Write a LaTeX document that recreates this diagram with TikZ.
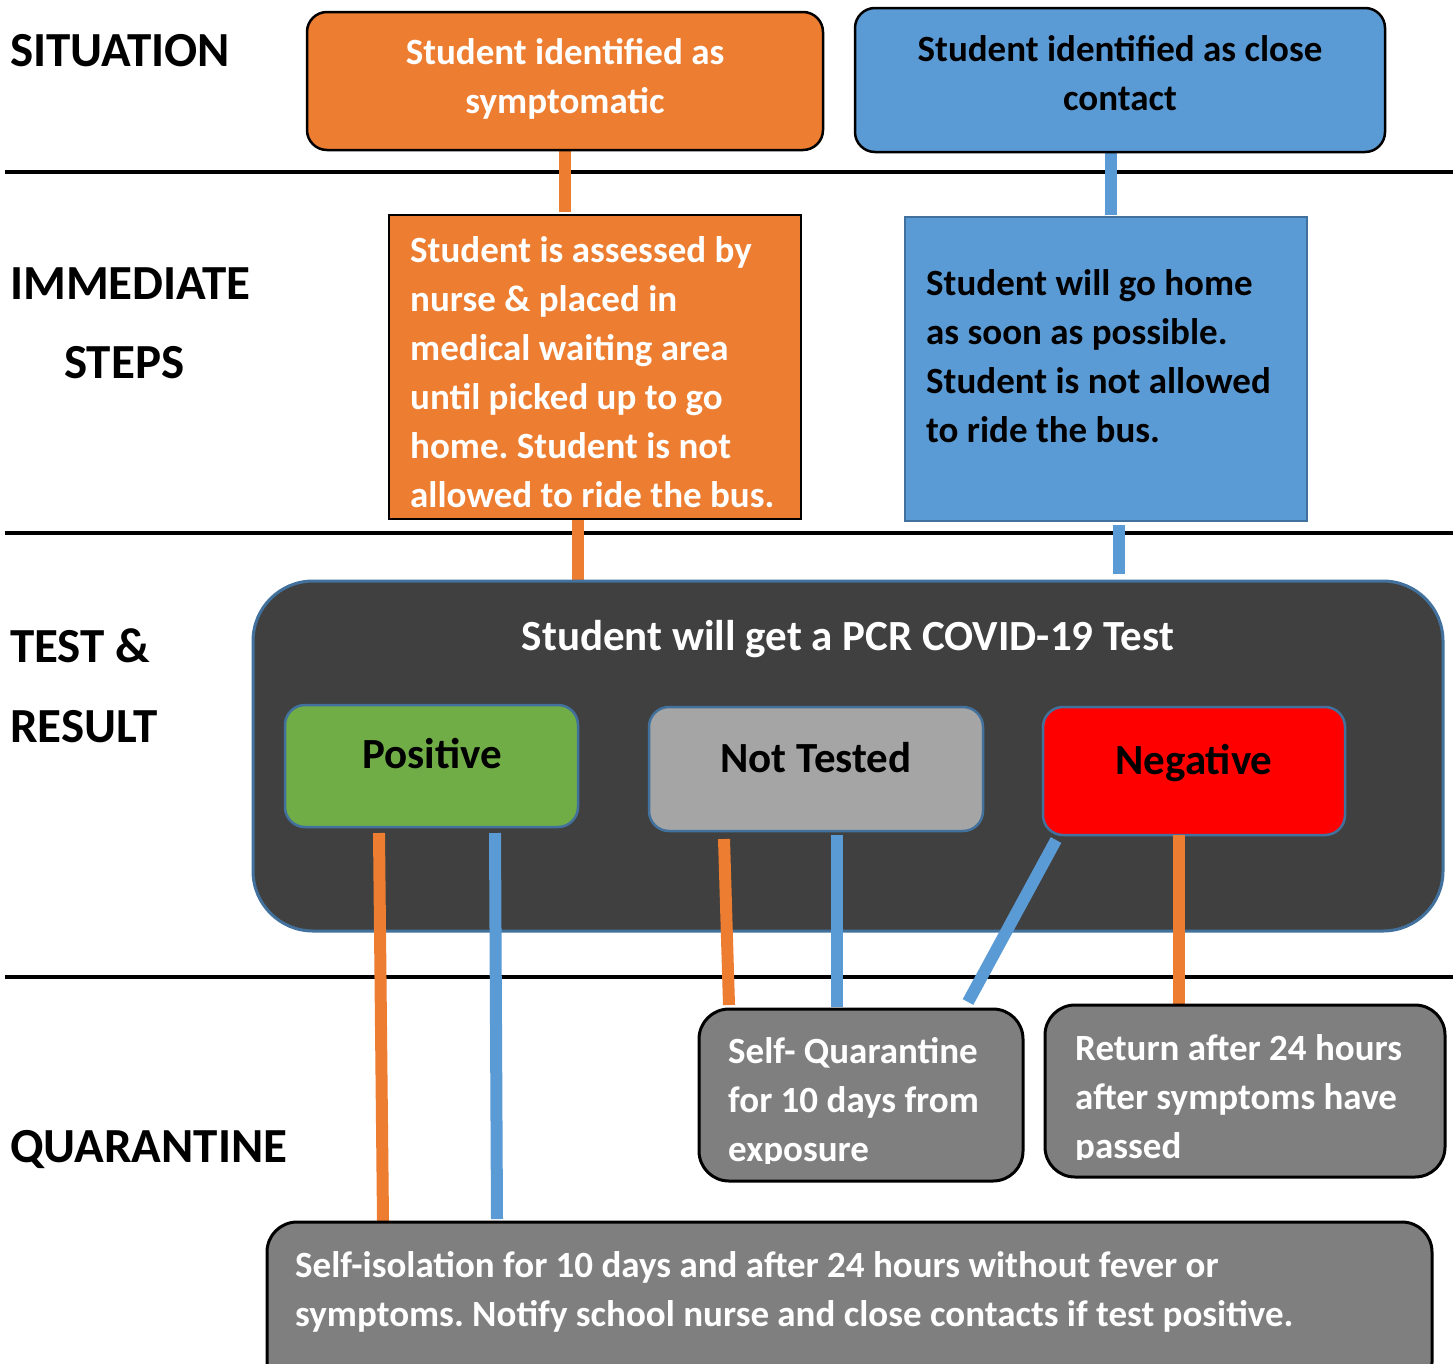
\documentclass[tikz,border=0pt]{standalone}
\usepackage{fontspec}
\setmainfont{Carlito}
\frenchspacing
\definecolor{orangeF}{HTML}{ED7D31}
\definecolor{blueF}{HTML}{5B9BD5}
\definecolor{blueE}{HTML}{41719C}
\definecolor{darkF}{HTML}{404040}
\definecolor{greenF}{HTML}{70AD47}
\definecolor{greyF}{HTML}{A5A5A5}
\definecolor{midgrey}{HTML}{7F7F7F}
\begin{document}
\begin{tikzpicture}[x=1pt,y=-1pt,
  box/.style={anchor=north west,inner sep=0pt,outer sep=0pt,line width=2.5pt},
  sectlabel/.style={anchor=base west,inner sep=0pt,font=\fontsize{49}{80}\selectfont\bfseries,align=left},
  boxtext/.style={anchor=base west,inner sep=0pt,font=\fontsize{37}{49}\selectfont\bfseries,align=left},
  toptext/.style={anchor=base,inner sep=0pt,font=\fontsize{37}{49}\selectfont\bfseries,align=center},
  rtext/.style={anchor=base,inner sep=0pt,font=\fontsize{43}{50}\selectfont\bfseries},
  divider/.style={line width=4pt,black},
  oconn/.style={line width=12pt,orangeF},
  bconn/.style={line width=12pt,blueF}]
\useasboundingbox (0,0) rectangle (1455,1363);
\fill[white] (0,0) rectangle (1455,1363);
% dividers
\coordinate (d1l) at (5,172); \coordinate (d1r) at (1453,172);
\coordinate (d2l) at (5,533); \coordinate (d2r) at (1453,533);
\coordinate (d3l) at (5,977); \coordinate (d3r) at (1453,977);
\draw[divider] (d1l) -- (d1r);
\draw[divider] (d2l) -- (d2r);
\draw[divider] (d3l) -- (d3r);
% section labels
\node[sectlabel] (lsit) at (10,66) {SITUATION};
\node[sectlabel] (limm) at (10,299) {IMMEDIATE};
\node[sectlabel] (lsteps) at (64,378) {STEPS};
\node[sectlabel] (ltest) at (10,662) {TEST \&};
\node[sectlabel] (lres) at (10,742) {RESULT};
\node[sectlabel] (lquar) at (10,1162) {QUARANTINE};
% connectors (drawn first, under boxes)
\coordinate (c1a) at (565,148); \coordinate (c1b) at (565,212);
\coordinate (c2a) at (1111,150); \coordinate (c2b) at (1111,215);
\coordinate (c3a) at (578,518); \coordinate (c3b) at (578,580);
\coordinate (c4a) at (1119,525); \coordinate (c4b) at (1119,574);
\draw[oconn] (c1a) -- (c1b);
\draw[bconn] (c2a) -- (c2b);
\draw[oconn] (c3a) -- (c3b);
\draw[bconn] (c4a) -- (c4b);
% top boxes
\node[box,draw=black,fill=orangeF,rounded corners=20pt,minimum width=516pt,minimum height=138pt] (sym) at (307,12) {};
\node[box,draw=black,fill=blueF,rounded corners=20pt,minimum width=530pt,minimum height=144pt] (close) at (855,8) {};
\node[toptext,text=white] (symt) at (565,113) {Student identified as\\symptomatic};
\node[toptext,text=black] (closet) at (1120,110) {Student identified as close\\contact};
% immediate steps boxes
\node[box,draw=black,fill=orangeF,minimum width=412pt,minimum height=304pt] (assess) at (389,215) {};
\node[box,draw=blueE,fill=blueF,minimum width=402pt,minimum height=304pt] (home) at (905,217) {};
\node[boxtext,text=white] (assesst) at (410,507) {Student is assessed by\\nurse \& placed in\\medical waiting area\\until picked up to go\\home. Student is not\\allowed to ride the bus.};
\node[boxtext,text=black] (homet) at (926,442) {Student will go home\\as soon as possible.\\Student is not allowed\\to ride the bus.};
% test box
\node[box,draw=blueE,line width=3pt,fill=darkF,rounded corners=60pt,minimum width=1190pt,minimum height=350pt] (test) at (253,581) {};
\node[anchor=base,inner sep=0pt,font=\fontsize{43}{46}\selectfont\bfseries,text=white] (testt) at (848,650) {Student will get a PCR COVID-19 Test};
\node[box,draw=blueE,fill=greenF,rounded corners=20pt,minimum width=293pt,minimum height=122pt] (pos) at (285,705) {};
\node[box,draw=blueE,fill=greyF,rounded corners=20pt,minimum width=334pt,minimum height=124pt] (nt) at (649,707) {};
\node[box,draw=blueE,fill=red,rounded corners=20pt,minimum width=302pt,minimum height=128pt] (neg) at (1043,707) {};
\node[rtext] (post) at (432,768) {Positive};
\node[rtext] (ntt) at (816,772) {Not Tested};
\node[rtext] (negt) at (1194,774) {Negative};
% result connectors
\coordinate (p1a) at (379,833); \coordinate (p1b) at (383,1221);
\coordinate (p2a) at (495,833); \coordinate (p2b) at (497,1219);
\coordinate (n1a) at (724,839); \coordinate (n1b) at (729,1005);
\coordinate (n2a) at (837,835); \coordinate (n2b) at (837,1007);
\coordinate (g1a) at (1056,840); \coordinate (g1b) at (968,1002);
\coordinate (g2a) at (1179,835); \coordinate (g2b) at (1179,1006);
\draw[oconn] (p1a) -- (p1b);
\draw[bconn] (p2a) -- (p2b);
\draw[oconn] (n1a) -- (n1b);
\draw[bconn] (n2a) -- (n2b);
\draw[bconn] (g1a) -- (g1b);
\draw[oconn] (g2a) -- (g2b);
% quarantine boxes
\node[box,draw=black,line width=3pt,fill=midgrey,rounded corners=30pt,minimum width=324pt,minimum height=172pt] (selfq) at (699,1009) {};
\node[box,draw=black,line width=3pt,fill=midgrey,rounded corners=30pt,minimum width=400pt,minimum height=172pt] (ret) at (1045,1005) {};
\node[box,draw=black,line width=3pt,fill=midgrey,rounded corners=30pt,minimum width=1165pt,minimum height=170pt] (iso) at (267,1222) {};
\begin{scope}
\clip (705,1015) rectangle (1017,1163);
\node[boxtext,text=white] (selfqt) at (728,1161) {Self- Quarantine\\for 10 days from\\exposure};
\end{scope}
\begin{scope}
\clip (1051,1011) rectangle (1439,1159);
\node[boxtext,text=white] (rett) at (1075,1158) {Return after 24 hours\\after symptoms have\\passed};
\end{scope}
\node[boxtext,text=white] (isot) at (295,1326) {Self-isolation for 10 days and after 24 hours without fever or\\symptoms. Notify school nurse and close contacts if test positive.};
\end{tikzpicture}
\end{document}
